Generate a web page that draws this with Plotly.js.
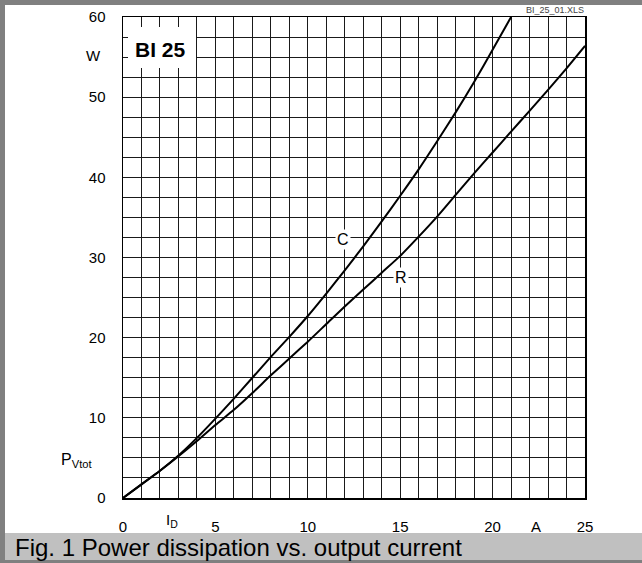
<!DOCTYPE html>
<html>
<head>
<meta charset="utf-8">
<script src="https://cdn.plot.ly/plotly-3.0.1.min.js"></script>
<style>
html,body{margin:0;padding:0;background:#fff;}
#chart{width:642px;height:563px;}
</style>
</head>
<body>
<div id="chart"></div>
<script>
// ---- data ----
var currentC = [0,1,2,3,4,5,6,7,8,9,10,11,12,13,14,15,16,17,18,19,20,21];
var powerC   = [0,1.7,3.4,5.3,7.5,9.9,12.4,15.0,17.6,20.1,22.7,25.5,28.4,31.4,34.5,37.7,41.0,44.5,48.1,51.9,55.9,60];
var currentR = [0,1,2,3,4,5,6,7,8,9,10,11,12,13,14,15,16,17,18,19,20,21,22,23,24,25];
var powerR   = [0,1.7,3.4,5.2,7.1,9.1,11.0,13.1,15.3,17.4,19.5,21.7,23.9,26.0,28.1,30.2,32.6,35.1,37.8,40.5,43.1,45.7,48.3,50.9,53.6,56.4];
var xTicks = [0,5,10,15,20,25];
var xTickText = ['0','5','10','15','20','25'];
var yTicks = [0,10,20,30,40,50,60];
var yTickText = ['0','10','20','30','40','50','60'];
var curveNames = ['C','R'];
var captionText = 'Fig. 1 Power dissipation vs. output current';
var typeLabel = 'BI 25';
var fileLabel = 'BI_25_01.XLS';

// ---- layout helpers (pixel -> paper) ----
var W = 642, H = 563, L = 123, R = 57, T = 17, B = 65;
var pw = W - L - R, ph = H - T - B;
function fx(px){ return (px - L) / pw; }
function fy(py){ return (H - B - py) / ph; }

var FONT = 'Liberation Sans, Arial, Helvetica, sans-serif';

var traces = [
  {x: currentC, y: powerC, name: curveNames[0], mode: 'lines', line: {color: '#000', width: 2, shape: 'spline', smoothing: 0.6}, hoverinfo: 'skip'},
  {x: currentR, y: powerR, name: curveNames[1], mode: 'lines', line: {color: '#000', width: 2, shape: 'spline', smoothing: 0.6}, hoverinfo: 'skip'}
];

var layout = {
  width: W, height: H,
  margin: {l: L, r: R, t: T, b: B, pad: 0},
  paper_bgcolor: '#fff', plot_bgcolor: '#fff',
  showlegend: false,
  font: {family: FONT, size: 15, color: '#000'},
  xaxis: {
    range: [0, 25], tickvals: xTicks, ticktext: xTickText,
    showgrid: true, gridcolor: '#1a1a1a', gridwidth: 1,
    minor: {dtick: 1, showgrid: true, gridcolor: '#1a1a1a', gridwidth: 1, ticks: ''},
    ticks: 'outside', ticklen: 14, tickcolor: 'rgba(0,0,0,0)',
    showline: true, mirror: true, linecolor: '#000', linewidth: 1.5,
    zeroline: false, tickfont: {size: 15, family: FONT}, fixedrange: true
  },
  yaxis: {
    range: [0, 60], tickvals: yTicks, ticktext: yTickText,
    showgrid: true, gridcolor: '#1a1a1a', gridwidth: 1,
    minor: {dtick: 2.5, showgrid: true, gridcolor: '#1a1a1a', gridwidth: 1, ticks: ''},
    ticks: 'outside', ticklen: 13, tickcolor: 'rgba(0,0,0,0)',
    showline: true, mirror: true, linecolor: '#000', linewidth: 1.5,
    zeroline: false, tickfont: {size: 15, family: FONT}, fixedrange: true
  },
  shapes: [
    // caption band
    {type: 'rect', xref: 'paper', yref: 'paper', x0: fx(0), x1: fx(W), y0: fy(533), y1: fy(560), fillcolor: '#c0c0c0', line: {width: 0}, layer: 'below'},
    // frame borders
    {type: 'rect', xref: 'paper', yref: 'paper', x0: fx(0), x1: fx(W), y0: fy(560), y1: fy(H), fillcolor: '#808080', line: {width: 0}, layer: 'below'},
    {type: 'rect', xref: 'paper', yref: 'paper', x0: fx(0), x1: fx(W), y0: fy(0), y1: fy(5), fillcolor: '#808080', line: {width: 0}, layer: 'below'},
    {type: 'rect', xref: 'paper', yref: 'paper', x0: fx(0), x1: fx(5), y0: fy(0), y1: fy(H), fillcolor: '#808080', line: {width: 0}, layer: 'below'},
    // white box behind type label
    {type: 'rect', xref: 'paper', yref: 'paper', x0: fx(128), x1: fx(196), y0: fy(68), y1: fy(27), fillcolor: '#fff', line: {width: 0}, layer: 'above'}
  ],
  annotations: [
    {xref: 'paper', yref: 'paper', x: fx(160), y: fy(50), text: '<b>' + typeLabel + '</b>', showarrow: false, font: {size: 21, family: FONT, color: '#000'}, xanchor: 'center', yanchor: 'middle'},
    {x: 11.9, y: 32.2, text: curveNames[0], showarrow: false, font: {size: 16, family: FONT}, bgcolor: '#fff', borderpad: 1, xanchor: 'center', yanchor: 'middle'},
    {x: 15.05, y: 27.5, text: curveNames[1], showarrow: false, font: {size: 16, family: FONT}, bgcolor: '#fff', borderpad: 1, xanchor: 'center', yanchor: 'middle'},
    {xref: 'paper', yref: 'paper', x: fx(103), y: fy(56), text: 'W', showarrow: false, font: {size: 15, family: FONT}, xanchor: 'right', yanchor: 'middle'},
    {xref: 'paper', yref: 'paper', x: fx(94), y: fy(460), text: 'P<sub>Vtot</sub>', showarrow: false, font: {size: 16, family: FONT}, xanchor: 'right', yanchor: 'middle'},
    {xref: 'paper', yref: 'paper', x: fx(172), y: fy(520), text: 'I<sub>D</sub>', showarrow: false, font: {size: 15, family: FONT}, xanchor: 'center', yanchor: 'middle'},
    {xref: 'paper', yref: 'paper', x: fx(536), y: fy(526), text: 'A', showarrow: false, font: {size: 15, family: FONT}, xanchor: 'center', yanchor: 'middle'},
    {xref: 'paper', yref: 'paper', x: fx(555), y: fy(10), text: fileLabel, showarrow: false, font: {size: 9, family: FONT, color: '#444'}, xanchor: 'center', yanchor: 'middle'},
    {xref: 'paper', yref: 'paper', x: fx(13), y: fy(547), text: captionText, showarrow: false, font: {size: 24, family: FONT, color: '#000'}, xanchor: 'left', yanchor: 'middle'}
  ]
};

Plotly.newPlot('chart', traces, layout, {staticPlot: true, displayModeBar: false});
</script>
</body>
</html>
